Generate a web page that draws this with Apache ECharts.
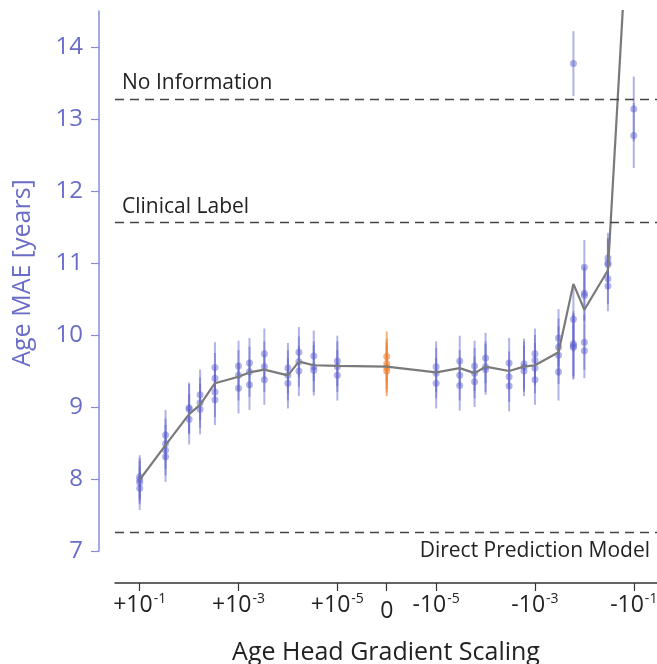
<!DOCTYPE html>
<html><head><meta charset="utf-8">
<script src="https://cdn.jsdelivr.net/npm/echarts@6/dist/echarts.min.js"></script>
<style>html,body{margin:0;padding:0;background:#fff}#chart{width:657px;height:664px}</style>
</head><body><div id="chart"></div>
<script>
// Signed gradient scaling applied to the age head (0 = head detached)
const scalings = [0.1, 0.03, 0.01, 0.006, 0.003, 0.001, 0.0006, 0.0003, 0.0001, 0.00006, 0.00003, 0.00001, 0,
  -0.00001, -0.00003, -0.00006, -0.0001, -0.0003, -0.0006, -0.001, -0.003, -0.006, -0.01, -0.03, -0.1];

// Mean age MAE over runs for each scaling
const meanMAE = [7.99, 8.47, 8.90, 9.03, 9.33, 9.42, 9.48, 9.52, 9.44, 9.63, 9.58, 9.57, 9.56,
  9.48, 9.54, 9.47, 9.56, 9.50, 9.56, 9.58, 9.76, 10.71, 10.35, 10.90, 17.2];

// Age MAE of the individual runs
const runMAE = [
  [8.03, 7.99, 7.95, 7.87],
  [8.61, 8.49, 8.40, 8.31],
  [8.99, 8.97, 8.83],
  [9.17, 9.06, 8.97],
  [9.55, 9.40, 9.21, 9.10],
  [9.57, 9.44, 9.26],
  [9.61, 9.49, 9.31],
  [9.74, 9.56, 9.38],
  [9.54, 9.44, 9.33],
  [9.76, 9.63, 9.50],
  [9.71, 9.56, 9.51],
  [9.64, 9.56, 9.44],
  [9.70, 9.60, 9.55, 9.50],
  [9.56, 9.47, 9.33],
  [9.64, 9.44, 9.30],
  [9.57, 9.47, 9.35],
  [9.68, 9.56, 9.52],
  [9.61, 9.42, 9.29],
  [9.60, 9.56, 9.50],
  [9.74, 9.65, 9.54, 9.38],
  [9.96, 9.83, 9.72, 9.49],
  [13.77, 10.22, 9.88, 9.85, 9.83],
  [10.94, 10.58, 10.55, 9.90, 9.78],
  [11.07, 11.00, 10.98, 10.78, 10.68],
  [13.14, 12.77]
];

// Half-width of each run's uncertainty bar
const runErr = [0.3, 0.35, 0.35, 0.35, 0.35, 0.35, 0.35, 0.35, 0.35, 0.35, 0.35, 0.35, 0.35,
  0.35, 0.35, 0.35, 0.35, 0.35, 0.35, 0.35, 0.4, 0.45, 0.38, 0.35, 0.45];

// Baseline models
const baselineNames = ['No Information', 'Clinical Label', 'Direct Prediction Model'];
const baselineMAE = [13.28, 11.56, 7.26];

// Labelled ticks of the scaling axis
const tickScalings = [0.1, 0.001, 0.00001, 0, -0.00001, -0.001, -0.1];

// Log-symmetric position: +1e-1 .. +1e-5 on the left, 0 in the middle, -1e-5 .. -1e-1 on the right
function axisPos(s) {
  if (s > 0) return -Math.log10(s) - 1;
  if (s < 0) return 11 + Math.log10(-s);
  return 5;
}
function tickText(s) {
  if (s === 0) return '{z|0}';
  const e = Math.round(Math.log10(Math.abs(s)));
  return '{n|' + (s > 0 ? '+' : '-') + '10}{s|' + e + '}';
}

const FONT = 'Open Sans';
const BLUE = 'rgba(92,96,204,0.6)';
const BLUE_BAR = 'rgba(92,96,204,0.48)';
const ORANGE = 'rgba(240,128,48,0.75)';
const ORANGE_BAR = 'rgba(240,128,48,0.6)';

const runPoints = [];
scalings.forEach((s, i) => {
  runMAE[i].forEach(v => runPoints.push({ value: [axisPos(s), v, runErr[i]], zero: s === 0 }));
});
const tickPos = tickScalings.map(axisPos);
const labelOf = {};
tickScalings.forEach(s => { labelOf[axisPos(s).toFixed(3)] = tickText(s); });

const chart = echarts.init(document.getElementById('chart'), null, { renderer: 'canvas' });
chart.setOption({
  animation: false,
  backgroundColor: '#fff',
  textStyle: { fontFamily: FONT },
  grid: { left: 115, right: 0, top: 11, bottom: 113, containLabel: false, outerBoundsMode: 'none' },
  xAxis: {
    type: 'value', min: -0.5, max: 10.47, offset: 32,
    name: 'Age Head Gradient Scaling', nameLocation: 'middle', nameGap: 57,
    nameTextStyle: { fontSize: 25, color: '#222', fontFamily: FONT },
    axisLine: { onZero: false, lineStyle: { color: '#333', width: 1.5 } },
    axisTick: { show: true, length: 8, customValues: tickPos, lineStyle: { color: '#333', width: 1.2 } },
    axisLabel: {
      customValues: tickPos, margin: 9, color: '#222',
      formatter: v => labelOf[v.toFixed(3)] || '',
      rich: {
        n: { fontSize: 23, color: '#222', fontFamily: FONT },
        z: { fontSize: 23, color: '#222', fontFamily: FONT, padding: [8, 0, 0, 0] },
        s: { fontSize: 14, color: '#222', fontFamily: FONT, verticalAlign: 'top', padding: [0, 0, 12, 1] }
      }
    },
    splitLine: { show: false }
  },
  yAxis: {
    type: 'value', min: 7, max: 14.5, interval: 1, offset: 16,
    name: 'Age MAE [years]', nameLocation: 'middle', nameGap: 64,
    nameTextStyle: { fontSize: 25, color: '#6a6dc8', fontFamily: FONT, padding: [0, 0, 0, 16] },
    axisLine: { show: true, onZero: false, lineStyle: { color: '#8a8cd8', width: 1.5 } },
    axisTick: { show: true, length: 8, lineStyle: { color: '#8a8cd8', width: 1.2 } },
    axisLabel: { fontSize: 24, color: '#6a6dc8', margin: 16, showMaxLabel: false },
    splitLine: { show: false }
  },
  series: [
    {
      type: 'custom', z: 2,
      data: runPoints,
      renderItem: (params, api) => {
        const x = api.value(0), v = api.value(1), e = api.value(2);
        const p0 = api.coord([x, v - e]), p1 = api.coord([x, v + e]);
        const zero = runPoints[params.dataIndex].zero;
        return {
          type: 'line',
          shape: { x1: p0[0], y1: p0[1], x2: p1[0], y2: p1[1] },
          style: { stroke: zero ? ORANGE_BAR : BLUE_BAR, lineWidth: 2 }
        };
      }
    },
    {
      type: 'scatter', z: 3,
      symbolSize: 7,
      data: runPoints.map(p => ({ value: [p.value[0], p.value[1]], itemStyle: { color: p.zero ? ORANGE : BLUE } }))
    },
    {
      type: 'line', z: 4,
      data: scalings.map((s, i) => [axisPos(s), meanMAE[i]]),
      showSymbol: false, symbol: 'none',
      lineStyle: { color: '#7a7a7a', width: 2.2 },
      clip: true,
      markLine: {
        silent: true, symbol: 'none',
        lineStyle: { color: '#444', type: [9, 6], width: 1.4 },
        data: baselineMAE.map((v, i) => ({
          yAxis: v,
          label: {
            show: true, formatter: baselineNames[i],
            position: i === 2 ? 'insideEndBottom' : 'insideStartTop',
            distance: i === 2 ? [7, 8] : [7, 5],
            fontSize: 21, color: '#222', fontFamily: FONT
          }
        }))
      }
    }
  ]
});
</script>
</body></html>
